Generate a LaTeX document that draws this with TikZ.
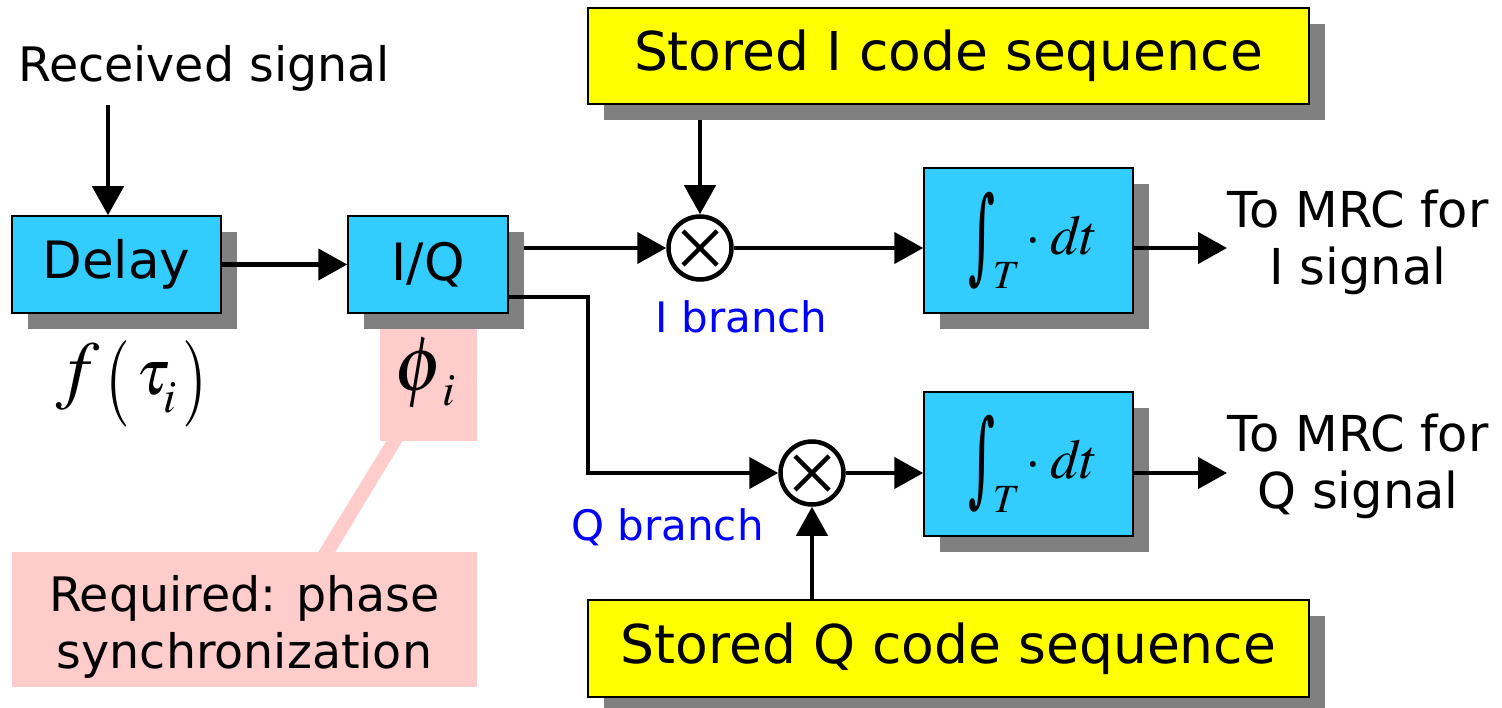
\documentclass[tikz,border=0pt]{standalone}
\usepackage{mathptmx}
\usepackage[no-math]{fontspec}
\setmainfont{DejaVu Sans}
\newfontfamily\intfont{DejaVu Serif}
\usepackage{graphicx}
\usetikzlibrary{arrows.meta,shadows,calc,backgrounds}
\definecolor{boxblue}{RGB}{51,204,255}
\definecolor{shadegray}{RGB}{128,128,128}
\definecolor{notepink}{RGB}{255,204,204}
\definecolor{labelblue}{RGB}{0,0,255}
\definecolor{codeyellow}{RGB}{255,255,0}
% Times italic in text mode (no math italic correction)
\newcommand{\tmsit}[1]{{\fontencoding{OT1}\fontfamily{ptm}\fontshape{it}\selectfont #1}}
% a tall integral sign
\newcommand{\tallint}{\resizebox{27pt}{97pt}{\raisebox{\depth}{\intfont ∫}}}
% integrate-and-dump symbol: tall integral sign, subscript T, then "· dt"
\newcommand{\intdt}{%
  \kern6pt\raisebox{-34pt}{\tallint}%
  \kern-3pt\raisebox{-34pt}{\fontsize{40}{40}\selectfont\tmsit{T}}%
  \kern10pt{\fontsize{56}{56}\selectfont$\cdot$\kern10pt\tmsit{dt}}}
% a large round bracket
\newcommand{\bigparen}[1]{\raisebox{-11pt}{\scalebox{1}[1.35]{$#1$}}}
\begin{document}
\begin{tikzpicture}[x=1pt,y=-1pt,
  boxshadow/.style={drop shadow={shadow xshift=16pt,shadow yshift=-16pt,opacity=1,fill=shadegray}},
  blk/.style={draw=black,line width=1.5pt,fill=boxblue,inner sep=0pt,boxshadow,font=\fontsize{51.5}{60}\selectfont},
  intbox/.style={blk,minimum width=209pt,minimum height=145pt},
  codebox/.style={draw=black,line width=1.5pt,fill=codeyellow,inner sep=0pt,boxshadow,
     minimum width=721pt,minimum height=96pt,font=\fontsize{53.5}{60}\selectfont},
  sig/.style={line width=4.5pt,-{Triangle[length=29pt,width=31pt]}},
  mixer/.style={circle,draw=black,line width=4.5pt,minimum size=63pt,inner sep=0pt,fill=white,
     path picture={\draw[line width=4.5pt]
        ($(path picture bounding box.center)+(-17,-17)$) -- ++(34,34)
        ($(path picture bounding box.center)+(17,-17)$) -- ++(-34,34);}},
  note/.style={fill=notepink,inner sep=0pt},
  txt/.style={font=\fontsize{47.5}{57}\selectfont,inner sep=0pt},
  outtxt/.style={font=\fontsize{49.5}{57}\selectfont,inner sep=0pt,align=center},
  brl/.style={text=labelblue,font=\fontsize{42}{50}\selectfont,inner sep=0pt,anchor=base},
  mathlbl/.style={font=\fontsize{64}{70}\selectfont,inner sep=0pt,anchor=base}
]
\useasboundingbox (0,0) rectangle (1502,708);

% phase-synchronisation callout (under the I/Q shadow)
\node[note,minimum width=97pt,minimum height=113pt] (phibox) at (428.5,384.5) {};
\node[note,minimum width=465pt,minimum height=135pt,align=center,txt] (req) at (244.5,619.5)
  {\rule{0pt}{50pt}Required: phase\\synchronization};
\fill[notepink] ($(phibox.south west)+(7,-1)$) -- ($(phibox.south west)+(23,-1)$)
  -- ($(req.north west)+(323,1)$) -- ($(req.north west)+(306,1)$) -- cycle;
\node[mathlbl] (phi) at (425,391)
  {{\fontsize{78}{80}\selectfont$\phi$}\kern-2pt\raisebox{-15pt}{\fontsize{46}{46}\selectfont\tmsit{i}}};

% processing blocks
\node[blk,minimum width=209pt,minimum height=97pt] (delay) at (116.5,264.5) {Delay};
\node[blk,minimum width=160pt,minimum height=97pt] (iq) at (428,264.5) {I/Q};
\node[codebox] (storedI) at (948.5,56) {Stored I code sequence};
\node[codebox,minimum height=97pt] (storedQ) at (948.5,648.5) {Stored Q code sequence};
\node[mixer] (mulI) at (700,248) {};
\node[mixer] (mulQ) at (812,473) {};
\node[intbox] (integI) at (1028.5,240.5) {\intdt};
\node[intbox,minimum height=144pt] (integQ) at (1028.5,464) {\intdt};

% labels
\node[txt,anchor=base] (rxlabel) at (204,82) {Received signal};
\node[mathlbl,anchor=base west] (ftau) at (67,395)
  {{\fontsize{76}{80}\selectfont\tmsit{f}}\kern17pt\bigparen{(}\kern6pt$\tau$\kern-6pt\raisebox{-18pt}{\fontsize{46}{46}\selectfont\tmsit{i}}\kern6pt\bigparen{)}};
\node[brl] (ibr) at (741.5,333) {I branch};
\node[brl] (qbr) at (667.5,540) {Q branch};
\node[outtxt] (outI) at (1358,242) {To MRC for\\I signal};
\node[outtxt] (outQ) at (1358,466) {To MRC for\\Q signal};

% signal flow
\coordinate (rxin) at (108,105);
\coordinate (qtap) at (508,297);
\coordinate (qbend) at (588,473);
\coordinate (outIend) at (1227,248);
\coordinate (outQend) at (1227,473);
\begin{scope}[on background layer]
  \draw[sig] (iq.east |- mulI) -- (mulI.west);
  \draw[sig] (storedI.south -| mulI) -- (mulI.north);
\end{scope}
\draw[sig] (rxin) -- (rxin |- delay.north);
\draw[sig] (delay.east) -- (iq.west);
\draw[sig] (mulI.east) -- (mulI.east -| integI.west);
\draw[sig] (outIend -| integI.east) -- (outIend);
\draw[sig] (qtap) -| (qbend) -- (mulQ.west);
\draw[sig] (mulQ.east) -- (mulQ.east -| integQ.west);
\draw[sig] (outQend -| integQ.east) -- (outQend);
\draw[sig] (storedQ.north -| mulQ) -- (mulQ.south);
\end{tikzpicture}
\end{document}
